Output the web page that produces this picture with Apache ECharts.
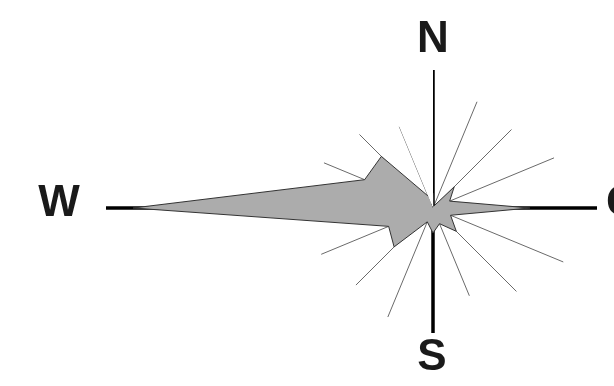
<!DOCTYPE html>
<html>
<head>
<meta charset="utf-8">
<script src="https://cdn.jsdelivr.net/npm/echarts@6/dist/echarts.min.js"></script>
<style>
  html, body { margin: 0; padding: 0; background: #fff; }
  #chart { width: 614px; height: 386px; }
</style>
</head>
<body>
<div id="chart"></div>
<script>
// 16 Windrichtungen, im Uhrzeigersinn ab Nord
const dirs = ['N', 'NNO', 'NO', 'ONO', 'O', 'OSO', 'SO', 'SSO', 'S', 'SSW', 'SW', 'WSW', 'W', 'WNW', 'NW', 'NNW']
// Haeufigkeit je Richtung (Windrose-Flaeche)
const roseVal = [15, 2, 30, 18, 97, 19, 33, 17, 25, 15, 55, 48, 300, 74, 73, 13]
// duenne Strahlen (Nebenrichtungen)
const rayDirs = ['NNO', 'NO', 'ONO', 'OSO', 'SO', 'SSO', 'SSW', 'SW', 'WSW', 'WNW', 'NW', 'NNW']
const rayLen = [115, 111, 131, 141, 118, 95, 118, 109, 121, 118, 104, 88]
// Hauptachsen
const crossDirs = ['N', 'O', 'S', 'W']
const crossLen = [138, 164, 125, 327]
const crossLabels = ['N', 'O', 'S', 'W']

const myChart = echarts.init(document.getElementById('chart'))

const series = []

// Strahlen
rayDirs.forEach((d, i) => {
  series.push({
    type: 'line',
    coordinateSystem: 'polar',
    symbol: 'none',
    silent: true,
    z: 1,
    lineStyle: { color: '#6a6a6a', width: 1 },
    data: [[0, d], [rayLen[i], d]]
  })
})

// Kreuz
crossDirs.forEach((d, i) => {
  series.push({
    type: 'line',
    coordinateSystem: 'polar',
    symbol: 'none',
    silent: true,
    z: 2,
    lineStyle: { color: '#000', width: 3.5, cap: 'butt' },
    data: [[0, d], [crossLen[i], d]]
  })
})

// Windrose
const roseData = dirs.map((d, i) => [roseVal[i], d])
roseData.push([roseVal[0], dirs[0]])
series.push({
  type: 'line',
  coordinateSystem: 'polar',
  symbol: 'none',
  z: 3,
  lineStyle: { color: '#333', width: 1 },
  areaStyle: { color: '#acacac', opacity: 1 },
  data: roseData
})

const labelPos = [[433, 40], [623, 204], [432, 358], [59, 204]]

let option = {
  backgroundColor: '#fff',
  animation: false,
  polar: {
    center: [433, 208],
    radius: 330
  },
  angleAxis: {
    type: 'category',
    data: dirs,
    startAngle: 90,
    clockwise: true,
    boundaryGap: false,
    axisLine: { show: false },
    axisTick: { show: false },
    axisLabel: { show: false },
    splitLine: { show: false }
  },
  radiusAxis: {
    type: 'value',
    min: 0,
    max: 330,
    axisLine: { show: false },
    axisTick: { show: false },
    axisLabel: { show: false },
    splitLine: { show: false }
  },
  graphic: crossLabels.map((t, i) => ({
    type: 'text',
    x: labelPos[i][0],
    y: labelPos[i][1],
    z: 10,
    style: {
      text: t,
      fill: '#1a1a1a',
      font: 'bold 44px "Liberation Sans", Arial, sans-serif',
      align: 'center',
      verticalAlign: 'middle',
      textAlign: 'center',
      textVerticalAlign: 'middle'
    }
  })),
  series: series
}

myChart.setOption(option)
</script>
</body>
</html>
